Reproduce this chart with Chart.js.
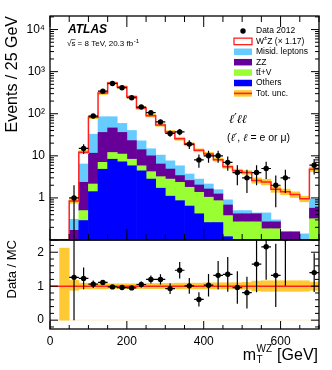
<!DOCTYPE html>
<html><head><meta charset="utf-8"><title>WZ mT</title>
<script src="https://cdn.jsdelivr.net/npm/chart.js@4.4.1/dist/chart.umd.min.js"></script>
<style>
html,body{margin:0;padding:0;background:#fff;}
#wrap{position:relative;width:332px;height:370px;overflow:hidden;background:#fff;}
canvas{position:absolute;left:0;}
</style></head><body>
<div id="wrap">
<canvas id="main" width="332" height="241" style="top:0"></canvas>
<canvas id="ratio" width="332" height="131" style="top:239px"></canvas>
</div>
<script>
// ---------------- data ----------------
const binLow = [25,50,75,100,125,150,175,200,225,250,275,300,325,350,375,400,425,450,475,500,525,550,575,600,625,650,675];
const binWidth = 25;
const dataCounts = [null,1,15,88,344,523,414,240,144,106,64,34,37,19,8,10,10,7,4,3,4,5,2,3,null,null,6];
const dataErr    = [null,1,3.9,9.4,18.5,22.9,20.3,15.5,12,10.3,8,5.8,6.1,4.4,2.8,3.2,3.2,2.6,2,1.7,2,2.2,1.4,1.7,null,null,2.4];
const others = [0,0,0.29,1.41,4.8,8.3,7.2,5.8,4.4,2.8,1.7,1.1,0.86,0.64,0.42,0.26,0.26,0.12,0,0,0,0,0,0,0,0,0];
const ttV    = [0,0,0.21,0.73,2.2,3.7,3.8,2.5,1.4,1.4,1.5,1.7,1.49,1.15,0.94,0.78,0.6,0.26,0.27,0.27,0.27,0.185,0.185,0.08,0.08,0.05,0.32];
const zz     = [0,0.17,1.85,9.4,29,34,25,14.7,8.2,5.8,3.2,2.05,1.05,0.81,0.67,0.59,0.38,0.3,0.15,0.15,0.15,0.085,0.085,0.075,0.075,0.03,0.25];
const misid  = [0,0.14,4.05,21.1,49,39,23,17,8.7,4.7,4.0,2.75,2.4,1.1,0.77,0.51,0.33,0.22,0.08,0.08,0.02,0.17,0.03,0.005,0.005,0.06,0.38];
const wz     = [0.05,0.54,5.8,50.4,225,449,372,213,114,75,43.6,29.4,19.7,15.1,10.7,8.86,6.53,4.6,3.9,3.5,2.16,1.96,1.3,1.24,1.04,0.81,3.85];
const ratio    = [null,1.26,1.23,1.06,1.11,0.98,0.96,0.95,1.05,1.2,1.2,0.93,1.47,1.01,0.61,1.03,1.32,1.35,0.96,0.81,1.65,2.16,1.32,2.4,null,null,1.4];
const ratioErr = [null,1.26,0.32,0.11,0.06,0.043,0.047,0.061,0.088,0.117,0.15,0.16,0.24,0.23,0.21,0.33,0.42,0.51,0.48,0.47,0.83,0.97,0.93,1.39,null,null,0.57];
const uncLow  = [0,0.88,0.92,0.92,0.92,0.93,0.93,0.93,0.93,0.93,0.93,0.93,0.92,0.92,0.92,0.92,0.92,0.92,0.92,0.91,0.86,0.85,0.85,0.85,0.85,0.85,0.88];
const uncHigh = [2.12,1.17,1.09,1.08,1.08,1.07,1.07,1.07,1.07,1.08,1.08,1.08,1.09,1.09,1.09,1.1,1.1,1.1,1.1,1.11,1.15,1.16,1.16,1.16,1.16,1.16,1.12];
const xTickValues = [0,200,400,600];
const mainYTickValues = [1,10,100,1000,10000];
const mainYTickLabels = ['1','10','10\u00B2','10\u00B3','10\u2074'];
const ratioYTickValues = [0,1,2];
const ratioRef = 1;

// ---------------- styles ----------------
const FONT = "'Liberation Sans', Arial, Helvetica, sans-serif";
const C = {misid:'#66CCFF', zz:'#660099', ttv:'#99FF33', others:'#0000FF', wz:'#FFFFFF', red:'#FF2020', band:'#FFC933', zero:'#FFF1D8'};
const X_MIN = 0, X_MAX = 700;

const centers = binLow.map(l => l + binWidth/2);
const total = binLow.map((_, i) => others[i]+ttV[i]+zz[i]+misid[i]+wz[i]);
const xy = arr => centers.map((c,i)=>({x:c, y:arr[i]})).filter(p => p.y != null);
const edgeLine = arr => binLow.map((l,i)=>({x:l, y:arr[i]})).concat([{x:binLow[binLow.length-1]+binWidth, y:arr[arr.length-1]}]);
const barDs = (label, data, color, stack) => ({type:'bar', label, data, backgroundColor:color, borderWidth:0,
  grouped:false, stack, barPercentage:1, categoryPercentage:1});
const noPad = s => { s.paddingTop = 0; s.paddingBottom = 0; s.paddingLeft = 0; s.paddingRight = 0; };

function drawFrame(chart, xt, yt, xTop) {
  const {ctx, chartArea:a} = chart; const xs = chart.scales.x, ys = chart.scales.y;
  ctx.save(); ctx.strokeStyle = '#000'; ctx.lineWidth = 1;
  ctx.beginPath();
  xt.forEach(([v,len]) => { const p = xs.getPixelForValue(v);
    ctx.moveTo(p, a.bottom); ctx.lineTo(p, a.bottom - len);
    if (xTop) { ctx.moveTo(p, a.top); ctx.lineTo(p, a.top + len); } });
  yt.forEach(([v,len]) => { const p = ys.getPixelForValue(v);
    ctx.moveTo(a.left, p); ctx.lineTo(a.left + len, p);
    ctx.moveTo(a.right, p); ctx.lineTo(a.right - len, p); });
  ctx.stroke();
  ctx.lineWidth = 1.3; ctx.strokeRect(a.left, a.top, a.right - a.left, a.bottom - a.top);
  ctx.restore();
}
function errorBars(chart, vals, errs) {
  const {ctx, chartArea:a} = chart; const xs = chart.scales.x, ys = chart.scales.y;
  ctx.save(); ctx.beginPath(); ctx.rect(a.left, a.top, a.right-a.left, a.bottom-a.top); ctx.clip();
  ctx.strokeStyle = '#000'; ctx.lineWidth = 1.2; ctx.beginPath();
  binLow.forEach((lo, i) => { const v = vals[i]; if (v == null) return;
    const px = xs.getPixelForValue(lo + binWidth/2), py = ys.getPixelForValue(v);
    ctx.moveTo(px, ys.getPixelForValue(Math.max(v - errs[i], 0))); ctx.lineTo(px, ys.getPixelForValue(v + errs[i]));
    ctx.moveTo(xs.getPixelForValue(lo), py); ctx.lineTo(xs.getPixelForValue(lo + binWidth), py); });
  ctx.stroke(); ctx.restore();
}
function xTickSpec(majLen, minLen) {
  const t = [];
  for (let v = X_MIN; v <= X_MAX; v += 50) t.push([v, v % 200 === 0 ? majLen : minLen]);
  return t;
}

const mainPlugin = {
  id: 'mainDeco',
  afterDatasetsDraw(chart) {
    errorBars(chart, dataCounts, dataErr);
    const yt = [];
    const ys = chart.scales.y;
    for (let d = 0.1; d < ys.max; d *= 10) for (let k = 1; k <= 9; k++) {
      const v = k*d; if (v < ys.min || v > ys.max) continue;
      yt.push([v, k === 1 ? 8 : 4]);
    }
    drawFrame(chart, xTickSpec(11, 6), yt, true);
  },
  afterDraw(chart) {
    const ctx = chart.ctx; ctx.save(); ctx.fillStyle = '#000'; ctx.textBaseline = 'alphabetic';
    ctx.font = `italic bold 12px ${FONT}`; ctx.fillText('ATLAS', 68, 33);
    ctx.font = `8px ${FONT}`;
    const w1 = ctx.measureText('\u221A').width, w2 = ctx.measureText('s').width;
    ctx.fillText('\u221A', 67, 46); ctx.fillText('s = 8 TeV, 20.3 fb', 67 + w1, 46);
    ctx.strokeStyle = '#000'; ctx.lineWidth = 0.6; ctx.beginPath(); ctx.moveTo(67 + w1 - 0.5, 39.6); ctx.lineTo(67 + w1 + w2, 39.6); ctx.stroke();
    const wAll = ctx.measureText('s = 8 TeV, 20.3 fb').width;
    ctx.font = `6px ${FONT}`; ctx.fillText('-1', 67 + w1 + wAll + 0.5, 42.5);
    const lx = 234, lw = 18, tx = 256, y0 = 31, dy = 10.4, bh = 6.5;
    ctx.font = `8.5px ${FONT}`; ctx.textBaseline = 'middle';
    const rows = [
      ['dot', 'Data 2012'], ['wz', 'W'], ['box', 'Misid. leptons', C.misid], ['box', 'ZZ', C.zz],
      ['box', 't\u0074\u0304+V', C.ttv], ['box', 'Others', C.others], ['unc', 'Tot. unc.']];
    rows.forEach((r, i) => {
      const cy = y0 + i*dy;
      if (r[0] === 'dot') { ctx.beginPath(); ctx.arc(lx + lw/2, cy, 2.7, 0, Math.PI*2); ctx.fill(); }
      else if (r[0] === 'box') { ctx.fillStyle = r[2]; ctx.fillRect(lx, cy - bh/2, lw, bh); ctx.fillStyle = '#000'; }
      else if (r[0] === 'wz') { ctx.strokeStyle = C.red; ctx.lineWidth = 1.3; ctx.strokeRect(lx, cy - bh/2, lw, bh); }
      else if (r[0] === 'unc') { ctx.fillStyle = C.band; ctx.fillRect(lx, cy - bh/2, lw, bh);
        ctx.fillStyle = C.red; ctx.fillRect(lx, cy - 0.8, lw, 1.6); ctx.fillStyle = '#000'; }
      ctx.fillStyle = '#000';
      if (r[0] === 'wz') {
        ctx.fillText('W', tx, cy); const ww = ctx.measureText('W').width;
        ctx.font = `6px ${FONT}`; ctx.fillText('\u00B1', tx + ww, cy - 3); const wp = ctx.measureText('\u00B1').width;
        ctx.font = `8.5px ${FONT}`; ctx.fillText('Z (\u00D7 1.17)', tx + ww + wp, cy);
      } else ctx.fillText(r[1], tx, cy);
    });
    ctx.textBaseline = 'alphabetic';
    ctx.font = `italic 12px 'DejaVu Serif', serif`; ctx.fillText('\u2113\u2032\u2113\u2113', 229, 123);
    let x = 227; const seg = (t, f) => { ctx.font = f; ctx.fillText(t, x, 141); x += ctx.measureText(t).width; };
    const it = `italic 10.5px 'DejaVu Serif', serif`, rm = `10.5px ${FONT}`;
    seg('(', rm); seg('\u2113\u2032', it); seg(', ', rm); seg('\u2113', it); seg(' = e or \u03BC)', rm);
    ctx.restore();
  }
};

new Chart(document.getElementById('main'), {
  type: 'bar',
  data: { datasets: [
    {type:'scatter', label:'Data 2012', data: xy(dataCounts), pointRadius:2.7, pointHoverRadius:0, pointBackgroundColor:'#000', pointBorderWidth:0, stack:'data'},
    {type:'line', label:'Total', data: edgeLine(total), stepped:'before', borderColor:C.red, borderWidth:1.5, pointRadius:0, pointHoverRadius:0, fill:false, stack:'tot'},
    barDs('Tot. unc.', centers.map((c,i)=>({x:c, y:[total[i]*uncLow[i], total[i]*uncHigh[i]]})), C.band, 'unc'),
    barDs('Others', xy(others), C.others, 'mc'),
    barDs('ttV', xy(ttV), C.ttv, 'mc'),
    barDs('ZZ', xy(zz), C.zz, 'mc'),
    barDs('Misid. leptons', xy(misid), C.misid, 'mc'),
    barDs('WZ', xy(wz), C.wz, 'mc')
  ]},
  options: {
    responsive:false, maintainAspectRatio:false, animation:false, devicePixelRatio:1, events:[],
    layout: {autoPadding:false, padding:{left:0, right:13, top:16, bottom:1}},
    plugins: {legend:{display:false}, tooltip:{enabled:false}},
    scales: {
      x: {type:'linear', min:X_MIN, max:X_MAX, offset:false, display:false},
      y: {type:'logarithmic', min:0.1, max:21000, stacked:true, position:'left',
          grid:{display:false, drawTicks:false}, border:{display:false},
          ticks:{font:{family:FONT, size:12}, color:'#000', padding:5, autoSkip:false,
                 callback:(v, i) => mainYTickLabels[i]},
          afterBuildTicks: s => { s.ticks = mainYTickValues.map(v => ({value:v})); },
          afterFit: s => { s.width = 50; noPad(s); },
          title:{display:true, text:'Events / 25 GeV', align:'end', color:'#000',
                 font:{family:FONT, size:16}, padding:{top:3, bottom:0}}}
    }
  },
  plugins: [mainPlugin]
});

const ratioPlugin = {
  id: 'ratioDeco',
  afterDatasetsDraw(chart) {
    errorBars(chart, ratio, ratioErr);
    const yt = [];
    for (let k = -1; k <= 11; k++) { const v = k*0.2; yt.push([v, (k % 5 === 0) ? 8 : 4]); }
    drawFrame(chart, xTickSpec(8, 4), yt, false);
  },
  afterDraw(chart) {
    const ctx = chart.ctx; ctx.save(); ctx.fillStyle = '#000'; ctx.textBaseline = 'alphabetic';
    const base = 121, right = chart.chartArea.right - 1;
    const big = `16px ${FONT}`, small = `10px ${FONT}`;
    ctx.font = big; const wm = ctx.measureText('m').width, wg = ctx.measureText(' [GeV]').width;
    ctx.font = small; const wsub = Math.max(ctx.measureText('T').width, ctx.measureText('WZ').width);
    const x0 = right - wg - wsub - wm - 1;
    ctx.font = big; ctx.fillText('m', x0, base);
    ctx.font = small; ctx.fillText('T', x0 + wm + 0.5, base + 3); ctx.fillText('WZ', x0 + wm + 0.5, base - 8);
    ctx.font = big; ctx.fillText(' [GeV]', x0 + wm + wsub + 1, base);
    ctx.restore();
  }
};

new Chart(document.getElementById('ratio'), {
  type: 'bar',
  data: { datasets: [
    {type:'scatter', label:'Data / MC', data: xy(ratio), pointRadius:2.7, pointHoverRadius:0, pointBackgroundColor:'#000', pointBorderWidth:0},
    {type:'line', label:'ref', data: [{x:X_MIN, y:ratioRef}, {x:X_MAX, y:ratioRef}], borderColor:C.red, borderWidth:1.5, pointRadius:0, pointHoverRadius:0},
    barDs('Tot. unc.', centers.map((c,i)=>({x:c, y:[uncLow[i], uncHigh[i]]})), C.band, 'unc'),
    {type:'line', label:'zero', data: [{x:X_MIN, y:0}, {x:X_MAX, y:0}], borderColor:C.zero, borderWidth:1.2, pointRadius:0, pointHoverRadius:0}
  ]},
  options: {
    responsive:false, maintainAspectRatio:false, animation:false, devicePixelRatio:1, events:[],
    layout: {autoPadding:false, padding:{left:0, right:13, top:1, bottom:0}},
    plugins: {legend:{display:false}, tooltip:{enabled:false}},
    scales: {
      x: {type:'linear', min:X_MIN, max:X_MAX, offset:false,
          grid:{display:false, drawTicks:false}, border:{display:false},
          ticks:{font:{family:FONT, size:12}, color:'#000', padding:5, maxRotation:0, autoSkip:false},
          afterBuildTicks: s => { s.ticks = xTickValues.map(v => ({value:v})); },
          afterFit: s => { s.height = 41; noPad(s); }},
      y: {type:'linear', min:-0.26, max:2.36, position:'left',
          grid:{display:false, drawTicks:false}, border:{display:false},
          ticks:{font:{family:FONT, size:12}, color:'#000', padding:6, autoSkip:false},
          afterBuildTicks: s => { s.ticks = ratioYTickValues.map(v => ({value:v})); },
          afterFit: s => { s.width = 50; noPad(s); },
          title:{display:true, text:'Data / MC', align:'end', color:'#000',
                 font:{family:FONT, size:13}, padding:{top:5, bottom:0}}}
    }
  },
  plugins: [ratioPlugin]
});
</script>
</body></html>
